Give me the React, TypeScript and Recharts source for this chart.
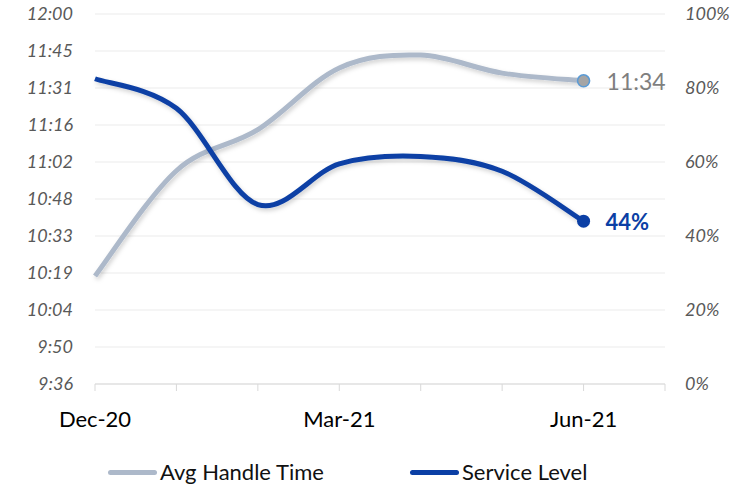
import { CartesianGrid, LabelList, Line, LineChart, XAxis, YAxis } from "recharts";

const MONTHS = ["Dec-20", "Jan-21", "Feb-21", "Mar-21", "Apr-21", "May-21", "Jun-21", "Jul-21"];
const LABELED_MONTHS = [0, 3, 6];
// avg handle time, in h:mm expressed as minutes
const AHT = [618, 659, 675, 699, 704, 697, 694];
// service level, %
const SERVICE_LEVEL = [82.5, 74.5, 48.5, 59.5, 61.5, 57.5, 44];

const AHT_TICKS = [576, 590.4, 604.8, 619.2, 633.6, 648, 662.4, 676.8, 691.2, 705.6, 720];
const SL_TICKS = [0, 20, 40, 60, 80, 100];

const AHT_COLOR = "#adb9ca";
const SL_COLOR = "#0b3fa5";
const FONT = "Lato, 'Noto Sans', sans-serif";

const fmtTime = (m: number) => {
  const t = Math.floor(m + 1e-6);
  return `${Math.floor(t / 60)}:${String(t % 60).padStart(2, "0")}`;
};

// excel-like smoothing (catmull-rom / cardinal, tension 0)
const smooth = (ctx: any) => {
  let pts: number[][] = [];
  return {
    areaStart() {},
    areaEnd() {},
    lineStart() {
      pts = [];
    },
    point(x: number, y: number) {
      pts.push([+x, +y]);
    },
    lineEnd() {
      const n = pts.length;
      if (!n) return;
      ctx.moveTo(pts[0][0], pts[0][1]);
      for (let i = 0; i < n - 1; i++) {
        const p0 = pts[Math.max(i - 1, 0)];
        const p1 = pts[i];
        const p2 = pts[i + 1];
        const p3 = pts[Math.min(i + 2, n - 1)];
        ctx.bezierCurveTo(
          p1[0] + (p2[0] - p0[0]) / 6,
          p1[1] + (p2[1] - p0[1]) / 6,
          p2[0] - (p3[0] - p1[0]) / 6,
          p2[1] - (p3[1] - p1[1]) / 6,
          p2[0],
          p2[1]
        );
      }
    },
  };
};

const data = AHT.map((v, i) => ({ x: i, aht: v, sl: SERVICE_LEVEL[i] }));
const last = data.length - 1;

export default function App() {
  return (
    <div style={{ position: "relative", width: 756, height: 486, fontFamily: FONT }}>
      <style>{`body{margin:0}`}</style>
      <LineChart width={756} height={486} data={data} margin={{ top: 14, right: 0, bottom: 52, left: 15 }}>
        <defs>
          <filter id="shadow" x="-10%" y="-10%" width="120%" height="130%">
            <feDropShadow dx="1.5" dy="2.5" stdDeviation="2" floodColor="#000" floodOpacity="0.18" />
          </filter>
        </defs>
        <CartesianGrid yAxisId="aht" vertical={false} stroke="#ebebeb" />
        <XAxis
          dataKey="x"
          type="number"
          domain={[0, 7]}
          ticks={MONTHS.map((_, i) => i)}
          interval={0}
          height={50}
          tickFormatter={(i: number) => (LABELED_MONTHS.includes(i) ? MONTHS[i] : "")}
          stroke="#d9d9d9"
          tickSize={7}
          tickMargin={20}
          tick={{ fontSize: 22, fill: "#000", fontFamily: FONT }}
        />
        <YAxis
          yAxisId="aht"
          domain={[576, 720]}
          ticks={AHT_TICKS}
          interval={0}
          width={80}
          axisLine={false}
          tickLine={false}
          tickSize={0}
          tickMargin={22}
          tickFormatter={fmtTime}
          tick={{ fontSize: 18, fill: "#595959", fontStyle: "italic", fontFamily: FONT }}
        />
        <YAxis
          yAxisId="sl"
          orientation="right"
          domain={[0, 100]}
          ticks={SL_TICKS}
          interval={0}
          width={91}
          axisLine={false}
          tickLine={false}
          tickSize={0}
          tickMargin={20}
          tickFormatter={(v: number) => `${v}%`}
          tick={{ fontSize: 18, fill: "#595959", fontStyle: "italic", fontFamily: FONT, textAnchor: "start" }}
        />
        <Line
          yAxisId="aht"
          dataKey="aht"
          type={smooth as any}
          stroke={AHT_COLOR}
          strokeWidth={5}
          filter="url(#shadow)"
          isAnimationActive={false}
          dot={(p: any) =>
            p.index === last ? (
              <circle key={p.index} cx={p.cx} cy={p.cy} r={6} fill="#a5a5a5" stroke="#5b9bd5" strokeWidth={1.6} />
            ) : (
              <g key={p.index} />
            )
          }
          activeDot={false}
        >
          <LabelList
            dataKey="aht"
            content={(p: any) =>
              p.index === last ? (
                <text x={p.x + 23} y={p.y} dominantBaseline="central" fontSize={23} fill="#7f7f7f" fontFamily={FONT}>
                  {fmtTime(p.value)}
                </text>
              ) : null
            }
          />
        </Line>
        <Line
          yAxisId="sl"
          dataKey="sl"
          type={smooth as any}
          stroke={SL_COLOR}
          strokeWidth={5}
          filter="url(#shadow)"
          isAnimationActive={false}
          dot={(p: any) =>
            p.index === last ? (
              <circle key={p.index} cx={p.cx} cy={p.cy} r={6.5} fill={SL_COLOR} />
            ) : (
              <g key={p.index} />
            )
          }
          activeDot={false}
        >
          <LabelList
            dataKey="sl"
            content={(p: any) =>
              p.index === last ? (
                <text x={p.x + 22} y={p.y} dominantBaseline="central" fontSize={22} fontWeight="bold" fill={SL_COLOR} fontFamily={FONT}>
                  {`${Math.round(p.value)}%`}
                </text>
              ) : null
            }
          />
        </Line>
      </LineChart>
      {/* legend */}
      <div style={{ position: "absolute", top: 459, left: 0, height: 26, fontSize: 22, lineHeight: "26px", color: "#111" }}>
        {[
          { name: "Avg Handle Time", color: AHT_COLOR, left: 108 },
          { name: "Service Level", color: SL_COLOR, left: 410 },
        ].map((it) => (
          <div key={it.name} style={{ position: "absolute", left: it.left, top: 0, display: "flex", alignItems: "center", whiteSpace: "nowrap" }}>
            <span style={{ display: "inline-block", width: 49, height: 5, borderRadius: 3, background: it.color, marginRight: 3 }} />
            <span>{it.name}</span>
          </div>
        ))}
      </div>
    </div>
  );
}
